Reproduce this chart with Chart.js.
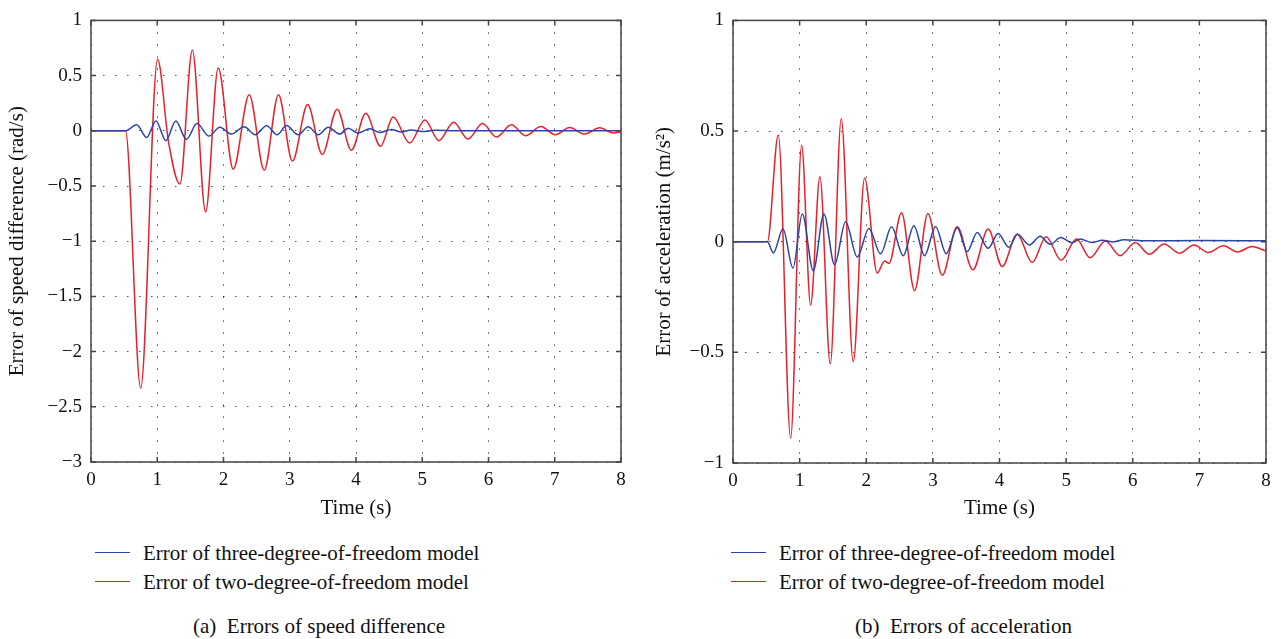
<!DOCTYPE html>
<html lang="en">
  <head>
    <meta charset="utf-8" />
    <title>Errors of speed difference and acceleration</title>
    <style>
      * {
        margin: 0;
        padding: 0;
      }
      body {
        width: 1281px;
        height: 639px;
        background: #fff;
        position: relative;
        overflow: hidden;
        font-family: 'Liberation Serif', 'DejaVu Serif', serif;
        color: #111;
      }
      canvas {
        position: absolute;
        top: 0;
      }
      #speedChart { left: 0; }
      #accChart { left: 640px; }
      .legLine {
        position: absolute;
        width: 35px;
        height: 0;
        border-top: 1.5px solid;
      }
      .legText, .caption {
        position: absolute;
        font-size: 21px;
        line-height: 24px;
        white-space: nowrap;
      }
    </style>
  </head>
  <body>
    <canvas id="speedChart" width="640" height="530"></canvas>
    <canvas id="accChart" width="641" height="530"></canvas>

    <div class="legLine" style="left:95px; top:552px; border-color:#2b44a8"></div>
    <div class="legText" style="left:143px; top:541px">Error of three-degree-of-freedom model</div>
    <div class="legLine" style="left:95px; top:581px; border-color:#e8202a"></div>
    <div class="legText" style="left:143px; top:570px">Error of two-degree-of-freedom model</div>
    <div class="caption" style="left:193px; top:614px">(a)&nbsp;&nbsp;Errors of speed difference</div>

    <div class="legLine" style="left:731px; top:552px; border-color:#2b44a8"></div>
    <div class="legText" style="left:779px; top:541px">Error of three-degree-of-freedom model</div>
    <div class="legLine" style="left:731px; top:581px; border-color:#e8202a"></div>
    <div class="legText" style="left:779px; top:570px">Error of two-degree-of-freedom model</div>
    <div class="caption" style="left:855px; top:614px">(b)&nbsp;&nbsp;Errors of acceleration</div>

    <script src="https://cdn.jsdelivr.net/npm/chart.js"></script>
    <script>
      // data (extrema of each trace)
      const speedT3 = [0, 0.52, 0.69, 0.84, 0.98, 1.13, 1.28, 1.44, 1.6, 1.78, 1.945, 2.12, 2.31, 2.48, 2.65, 2.81, 2.95, 3.13, 3.28, 3.43, 3.58, 3.755, 3.88, 4.03, 4.21, 4.36, 4.535, 4.685, 4.83, 5.0, 5.2, 5.5, 6, 7, 8];
      const speedErr3 = [0, 0, 0.054, -0.06, 0.089, -0.089, 0.089, -0.077, 0.065, -0.048, 0.033, -0.03, 0.036, -0.036, 0.045, -0.036, 0.048, -0.036, 0.036, -0.036, 0.033, -0.03, 0.024, -0.02, 0.018, -0.015, 0.012, -0.012, 0.008, -0.006, 0.004, 0, 0, 0, 0];

      const speedT2 = [0, 0.52, 0.75, 1.005, 1.17, 1.342, 1.53, 1.73, 1.92, 2.147, 2.388, 2.615, 2.83, 3.04, 3.27, 3.49, 3.715, 3.93, 4.148, 4.37, 4.56, 4.81, 5.04, 5.25, 5.475, 5.69, 5.91, 6.12, 6.345, 6.56, 6.79, 7.01, 7.225, 7.45, 7.68, 7.88, 8];
      const speedErr2 = [0, 0, -2.33, 0.649, -0.1, -0.482, 0.729, -0.735, 0.569, -0.348, 0.327, -0.357, 0.327, -0.274, 0.238, -0.214, 0.196, -0.176, 0.158, -0.14, 0.125, -0.11, 0.098, -0.089, 0.077, -0.074, 0.065, -0.056, 0.054, -0.045, 0.039, -0.036, 0.03, -0.03, 0.027, -0.02, -0.01];

      const accT3 = [0, 0.516, 0.605, 0.75, 0.9, 1.04, 1.205, 1.365, 1.525, 1.69, 1.865, 2.04, 2.215, 2.38, 2.555, 2.715, 2.875, 3.04, 3.2, 3.365, 3.515, 3.665, 3.83, 3.98, 4.14, 4.27, 4.45, 4.61, 4.76, 4.92, 5.09, 5.21, 5.39, 5.54, 5.71, 5.865, 6.2, 7, 8];
      const accErr3 = [0, 0, -0.051, 0.057, -0.119, 0.125, -0.131, 0.125, -0.104, 0.09, -0.069, 0.06, -0.055, 0.067, -0.063, 0.072, -0.063, 0.069, -0.054, 0.063, -0.045, 0.042, -0.03, 0.037, -0.025, 0.034, -0.015, 0.025, -0.012, 0.019, -0.005, 0.012, -0.004, 0.007, -0.001, 0.009, 0.004, 0.005, 0.004];

      const accT2 = [0, 0.516, 0.68, 0.865, 1.03, 1.165, 1.305, 1.46, 1.625, 1.805, 1.975, 2.165, 2.275, 2.34, 2.53, 2.725, 2.925, 3.14, 3.365, 3.6, 3.83, 4.04, 4.265, 4.49, 4.7, 4.925, 5.155, 5.36, 5.59, 5.81, 6.04, 6.25, 6.47, 6.7, 6.92, 7.135, 7.36, 7.575, 7.79, 8];
      const accErr2 = [0, 0, 0.482, -0.888, 0.436, -0.286, 0.294, -0.552, 0.556, -0.542, 0.288, -0.142, -0.087, -0.098, 0.131, -0.221, 0.127, -0.152, 0.067, -0.127, 0.057, -0.112, 0.034, -0.094, 0.022, -0.084, 0.012, -0.073, 0.003, -0.063, -0.004, -0.057, -0.01, -0.052, -0.015, -0.049, -0.018, -0.046, -0.022, -0.042];

      const timeTicks = [0, 1, 2, 3, 4, 5, 6, 7, 8];
      const speedTicks = [1, 0.5, 0, -0.5, -1, -1.5, -2, -2.5, -3];
      const accTicks = [1, 0.5, 0, -0.5, -1];

      const BLUE = '#2b44a8';
      const RED = '#e8202a';
      const FONT = "'Liberation Serif', 'DejaVu Serif', serif";

      const pts = (xs, ys) => xs.map((x, i) => ({ x, y: ys[i] }));
      const fmt = (v) => (v < 0 ? '\u2212' + Math.abs(v) : String(v));

      // box + inward ticks like matlab
      const framePlugin = {
        id: 'frame',
        afterDraw(chart) {
          const { ctx, chartArea: a, scales } = chart;
          ctx.save();
          ctx.strokeStyle = '#444';
          ctx.lineWidth = 1.5;
          ctx.strokeRect(a.left, a.top, a.right - a.left, a.bottom - a.top);
          ctx.beginPath();
          scales.x.ticks.forEach((t) => {
            const px = scales.x.getPixelForValue(t.value);
            ctx.moveTo(px, a.bottom); ctx.lineTo(px, a.bottom - 5);
            ctx.moveTo(px, a.top); ctx.lineTo(px, a.top + 5);
          });
          scales.y.ticks.forEach((t) => {
            const py = scales.y.getPixelForValue(t.value);
            ctx.moveTo(a.left, py); ctx.lineTo(a.left + 5, py);
            ctx.moveTo(a.right, py); ctx.lineTo(a.right - 5, py);
          });
          ctx.stroke();
          ctx.restore();
        },
      };

      function makeChart(id, opts) {
        const ds = (label, data, color) => ({
          label,
          data,
          borderColor: color,
          borderWidth: 1.5,
          pointRadius: 0,
          cubicInterpolationMode: 'monotone',
          fill: false,
        });
        return new Chart(document.getElementById(id), {
          type: 'line',
          data: {
            datasets: [
              ds('Error of three-degree-of-freedom model', opts.blue, BLUE),
              ds('Error of two-degree-of-freedom model', opts.red, RED),
            ],
          },
          options: {
            responsive: false,
            animation: false,
            layout: { padding: opts.pad },
            plugins: { legend: { display: false }, tooltip: { enabled: false } },
            scales: {
              x: {
                type: 'linear',
                min: 0,
                max: 8,
                afterBuildTicks: (s) => { s.ticks = timeTicks.map((v) => ({ value: v })); },
                afterFit: (s) => { s.height = opts.xH; },
                ticks: { font: { family: FONT, size: 19 }, color: '#111', padding: 7, maxRotation: 0 },
                grid: { color: 'rgba(0,0,0,0.7)', lineWidth: 1, drawTicks: false },
                border: { display: false, dash: [1.5, 10.5] },
                title: { display: true, text: 'Time (s)', font: { family: FONT, size: 21 }, color: '#111', padding: { top: 0, bottom: 9 } },
              },
              y: {
                min: opts.yMin,
                max: opts.yMax,
                afterBuildTicks: (s) => { s.ticks = opts.yTicks.map((v) => ({ value: v })); },
                afterFit: (s) => { s.width = opts.yW; },
                ticks: { font: { family: FONT, size: 19 }, color: '#111', padding: 9, callback: fmt },
                grid: { color: 'rgba(0,0,0,0.7)', lineWidth: 1, drawTicks: false },
                border: { display: false, dash: [1.5, 10.5] },
                title: { display: true, text: opts.yTitle, font: { family: FONT, size: 21 }, color: '#111', padding: { top: opts.yTitlePad, bottom: 0 } },
              },
            },
          },
          plugins: [framePlugin],
        });
      }

      makeChart('speedChart', {
        blue: pts(speedT3, speedErr3),
        red: pts(speedT2, speedErr2),
        yMin: -3,
        yMax: 1,
        yTicks: speedTicks,
        yTitle: 'Error of speed difference (rad/s)',
        pad: { left: 0, top: 14, right: 19, bottom: 0 },
        yW: 91,
        xH: 68,
        yTitlePad: 5,
      });

      makeChart('accChart', {
        blue: pts(accT3, accErr3),
        red: pts(accT2, accErr2),
        yMin: -1,
        yMax: 1,
        yTicks: accTicks,
        yTitle: 'Error of acceleration (m/s\u00b2)',
        pad: { left: 0, top: 16, right: 15, bottom: 0 },
        yW: 93,
        xH: 67,
        yTitlePad: 12,
      });
    </script>
  </body>
</html>
